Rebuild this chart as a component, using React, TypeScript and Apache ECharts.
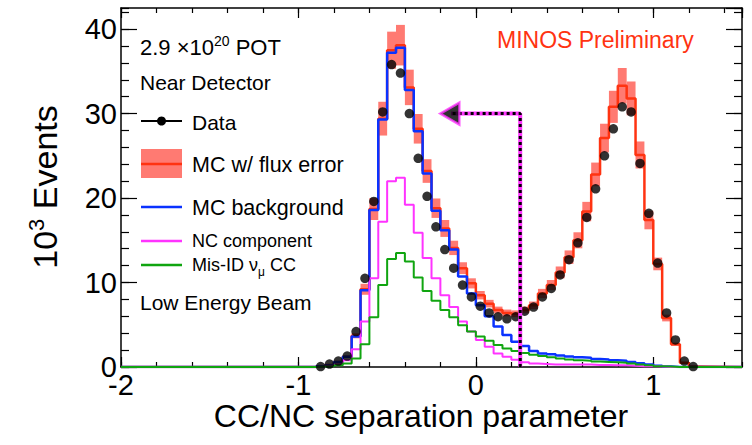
import { useEffect, useRef } from 'react';
import * as echarts from 'echarts';

const FONT = '"Liberation Sans", Arial, Helvetica, sans-serif';

// Axis ranges and binning
const X_MIN = -2;
const X_MAX = 1.5;
const Y_MIN = 0;
const Y_MAX = 42.5;
const BIN_WIDTH = 0.05;

// Bin centres of the non-empty part of the histogram
const BIN_CENTERS = [
  -0.875, -0.825, -0.775, -0.725, -0.675, -0.625, -0.575, -0.525, -0.475, -0.425,
  -0.375, -0.325, -0.275, -0.225, -0.175, -0.125, -0.075, -0.025, 0.025, 0.075,
  0.125, 0.175, 0.225, 0.275, 0.325, 0.375, 0.425, 0.475, 0.525, 0.575,
  0.625, 0.675, 0.725, 0.775, 0.825, 0.875, 0.925, 0.975, 1.025, 1.075,
  1.125, 1.175, 1.225,
];

// 10^3 events per bin
const DATA = [
  0.05, 0.35, 0.7, 1.3, 4.2, 10.5, 19.6, 30.2, 35.8, 34.8,
  30.0, 24.7, 20.2, 16.6, 13.9, 11.7, 9.7, 8.3, 7.2, 6.4,
  5.95, 5.7, 5.95, 6.6, 7.1, 8.3, 9.3, 10.9, 12.7, 14.7,
  17.7, 21.1, 25.0, 28.2, 30.8, 30.2, 24.1, 18.2, 12.3, 6.4,
  3.2, 0.7, 0.05,
];
const MC_TOTAL = [
  0.1, 0.25, 0.6, 1.2, 3.7, 9.2, 18.7, 29.4, 37.5, 38.1,
  33.1, 28.2, 23.2, 18.8, 16.4, 14.1, 11.7, 9.9, 8.5, 7.5,
  6.75, 6.4, 6.3, 6.75, 7.3, 8.7, 9.7, 11.2, 13.0, 15.0,
  18.4, 22.8, 27.1, 30.8, 33.3, 31.8, 25.1, 17.4, 12.2, 5.8,
  2.7, 0.5, 0.05,
];
const MC_ERR = [
  0.02, 0.03, 0.05, 0.1, 0.3, 0.65, 1.3, 2.0, 2.2, 2.4,
  2.1, 1.75, 1.4, 1.15, 1.0, 0.85, 0.7, 0.6, 0.5, 0.45,
  0.4, 0.4, 0.4, 0.4, 0.45, 0.55, 0.6, 0.7, 0.8, 0.95,
  1.15, 1.4, 1.7, 1.9, 2.1, 2.0, 1.6, 1.1, 0.75, 0.4,
  0.2, 0.05, 0.01,
];
const MC_BKG = [
  0.1, 0.2, 0.6, 1.2, 3.6, 9.1, 18.6, 29.3, 37.2, 37.8,
  32.8, 27.9, 22.9, 18.5, 16.2, 13.9, 10.7, 8.7, 7.3, 6.0,
  4.8, 3.8, 3.0, 2.5, 1.9, 1.6, 1.5, 1.35, 1.25, 1.15,
  1.1, 0.95, 0.9, 0.8, 0.75, 0.6, 0.45, 0.3, 0.15, 0.05,
  0, 0, 0,
];
const NC = [
  0.05, 0.15, 0.3, 0.8, 2.1, 5.4, 10.5, 17.2, 22.0, 22.4,
  19.2, 15.9, 12.9, 10.5, 8.5, 7.1, 5.4, 4.2, 3.2, 2.4,
  1.6, 1.2, 0.85, 0.55, 0.4, 0.35, 0.3, 0.3, 0.3, 0.3,
  0.3, 0.25, 0.25, 0.2, 0.2, 0.15, 0.1, 0.1, 0.05, 0,
  0, 0, 0,
];
const MISID = [
  0.05, 0.1, 0.2, 0.4, 1.0, 2.7, 5.9, 9.7, 12.8, 13.5,
  12.5, 10.6, 9.0, 7.85, 6.75, 5.9, 4.95, 4.2, 3.6, 3.1,
  2.6, 2.2, 1.9, 1.65, 1.45, 1.3, 1.15, 1.0, 0.9, 0.8,
  0.75, 0.65, 0.6, 0.55, 0.5, 0.4, 0.3, 0.2, 0.1, 0.05,
  0, 0, 0,
];

// Cut arrow
const CUT_VALUE = 0.25;
const ARROW_Y = 30;
const ARROW_TIP = -0.2;

const RED = '#ff3311';
const BAND = '#ff7a72';
const BLUE = '#0a32ff';
const MAGENTA = '#ff33ff';
const GREEN = '#10a510';

function stepData(vals: number[]) {
  const pts: number[][] = [[X_MIN, 0]];
  BIN_CENTERS.forEach((c, i) => pts.push([c - BIN_WIDTH / 2, vals[i]]));
  pts.push([BIN_CENTERS[BIN_CENTERS.length - 1] + BIN_WIDTH / 2, 0]);
  pts.push([X_MAX, 0]);
  return pts;
}

function histSeries(name: string, vals: number[], color: string, width: number, z: number) {
  return {
    name,
    type: 'line',
    xAxisIndex: 0,
    yAxisIndex: 0,
    step: 'end',
    data: stepData(vals),
    showSymbol: false,
    symbol: 'none',
    lineStyle: { color, width },
    z,
    silent: true,
  };
}

const intLabel = (v: number) => (Number.isInteger(v) ? String(v) : '');

function buildOption() {
  const gridRect = { left: 121, top: 8, right: 10, bottom: 78 };
  const axisLineStyle = { color: '#000', width: 1.5 };
  const tickStyle = { color: '#000', width: 1.2 };

  const majorX = (position: string, labels: boolean, gridIndex: number) => ({
    type: 'value', gridIndex, position, min: X_MIN, max: X_MAX, interval: 1,
    axisLine: { show: true, onZero: false, lineStyle: axisLineStyle },
    axisTick: { show: true, inside: true, length: 10, lineStyle: tickStyle },
    axisLabel: {
      show: labels, fontSize: 29, color: '#000', fontFamily: FONT, margin: 3,
      formatter: intLabel, showMaxLabel: false,
    },
    splitLine: { show: false },
  });
  const minorX = (position: string, gridIndex: number) => ({
    type: 'value', gridIndex, position, min: X_MIN, max: X_MAX, interval: 0.2,
    axisLine: { show: false, onZero: false },
    axisTick: { show: true, inside: true, length: 5, lineStyle: tickStyle },
    axisLabel: { show: false },
    splitLine: { show: false },
  });
  const majorY = (position: string, labels: boolean, gridIndex: number) => ({
    type: 'value', gridIndex, position, min: Y_MIN, max: Y_MAX, interval: 10,
    axisLine: { show: true, onZero: false, lineStyle: axisLineStyle },
    axisTick: { show: true, inside: true, length: 16, lineStyle: tickStyle },
    axisLabel: {
      show: labels, fontSize: 29, color: '#000', fontFamily: FONT, margin: 4,
      formatter: intLabel, showMaxLabel: false,
    },
    splitLine: { show: false },
  });
  const minorY = (position: string, gridIndex: number) => ({
    type: 'value', gridIndex, position, min: Y_MIN, max: Y_MAX, interval: 2,
    axisLine: { show: false, onZero: false },
    axisTick: { show: true, inside: true, length: 8, lineStyle: tickStyle },
    axisLabel: { show: false },
    splitLine: { show: false },
  });

  const bandData = BIN_CENTERS.map((c, i) => [
    c - BIN_WIDTH / 2, c + BIN_WIDTH / 2, MC_TOTAL[i] - MC_ERR[i], MC_TOTAL[i] + MC_ERR[i],
  ]);

  const arrowPath = [[CUT_VALUE, 0], [CUT_VALUE, ARROW_Y], [ARROW_TIP + 0.06, ARROW_Y]];

  const legendX0 = 141;
  const legendX1 = 182;
  const textX = 192;

  const text = (x: number, y: number, str: string, size: number, color = '#000', rich?: any) => ({
    type: 'text', x, y, z: 100,
    style: {
      text: str, fill: color, fontSize: size, fontFamily: FONT,
      align: 'left', verticalAlign: 'middle', textAlign: 'left', textVerticalAlign: 'middle',
      rich,
    },
  });
  const lline = (y: number, color: string, width: number) => ({
    type: 'line', z: 100,
    shape: { x1: legendX0, y1: y, x2: legendX1, y2: y },
    style: { stroke: color, lineWidth: width },
  });

  return {
    animation: false,
    backgroundColor: '#fff',
    grid: [
      { ...gridRect, containLabel: false },
      { ...gridRect, containLabel: false },
    ],
    xAxis: [majorX('bottom', true, 0), majorX('top', false, 0), minorX('bottom', 1), minorX('top', 1)],
    yAxis: [majorY('left', true, 0), majorY('right', false, 0), minorY('left', 1), minorY('right', 1)],
    series: [
      {
        name: 'MC w/ flux error band',
        type: 'custom',
        xAxisIndex: 0,
        yAxisIndex: 0,
        data: bandData,
        encode: { x: [0, 1], y: [2, 3] },
        silent: true,
        z: 1,
        renderItem: (_params: any, api: any) => {
          const p0 = api.coord([api.value(0), api.value(3)]);
          const p1 = api.coord([api.value(1), api.value(2)]);
          return {
            type: 'rect',
            shape: { x: p0[0], y: p0[1], width: p1[0] - p0[0], height: p1[1] - p0[1] },
            style: { fill: BAND },
          };
        },
      },
      histSeries('MC w/ flux error', MC_TOTAL, RED, 2.5, 3),
      histSeries('MC background', MC_BKG, BLUE, 2.5, 4),
      histSeries('NC component', NC, MAGENTA, 2, 5),
      histSeries('Mis-ID numu CC', MISID, GREEN, 2, 6),
      {
        name: 'Data',
        type: 'scatter',
        xAxisIndex: 0,
        yAxisIndex: 0,
        data: BIN_CENTERS.map((c, i) => [c, DATA[i]]),
        symbol: 'circle',
        symbolSize: 9.5,
        itemStyle: { color: '#000' },
        z: 8,
        silent: true,
      },
      {
        name: 'cut-base',
        type: 'line',
        xAxisIndex: 0,
        yAxisIndex: 0,
        data: arrowPath,
        showSymbol: false,
        symbol: 'none',
        lineStyle: { color: MAGENTA, width: 4 },
        z: 9,
        silent: true,
      },
      {
        name: 'cut-dash',
        type: 'line',
        xAxisIndex: 0,
        yAxisIndex: 0,
        data: arrowPath,
        showSymbol: false,
        symbol: 'none',
        lineStyle: { color: '#000', width: 3, type: [3, 3] },
        z: 10,
        silent: true,
      },
      {
        name: 'cut-head',
        type: 'scatter',
        xAxisIndex: 0,
        yAxisIndex: 0,
        data: [[ARROW_TIP, ARROW_Y]],
        symbol: 'triangle',
        symbolSize: [22, 19],
        symbolRotate: 90,
        symbolOffset: [9.5, 0],
        itemStyle: { color: '#000', borderColor: MAGENTA, borderWidth: 2.5 },
        z: 11,
        silent: true,
      },
    ],
    graphic: [
      // Y axis title
      {
        type: 'text', x: 45, y: 187, rotation: Math.PI / 2, z: 100,
        style: {
          text: '{a|10}{s|3}{a| Events}',
          fill: '#000', fontFamily: FONT, fontSize: 34,
          align: 'center', verticalAlign: 'middle', textAlign: 'center', textVerticalAlign: 'middle',
          rich: {
            a: { fontSize: 34, fontFamily: FONT, fill: '#000', lineHeight: 40 },
            s: { fontSize: 22, fontFamily: FONT, fill: '#000', lineHeight: 22, verticalAlign: 'top' },
          },
        },
      },
      // X axis title
      {
        type: 'text', x: 421, y: 416, z: 100,
        style: {
          text: 'CC/NC separation parameter', fill: '#000', fontFamily: FONT, fontSize: 32,
          align: 'center', verticalAlign: 'middle', textAlign: 'center', textVerticalAlign: 'middle',
        },
      },
      text(140, 47, '{n|2.9 ×10}{s|20}{n| POT}', 22, '#000', {
        n: { fontSize: 22, fontFamily: FONT, fill: '#000', lineHeight: 26 },
        s: { fontSize: 14, fontFamily: FONT, fill: '#000', lineHeight: 14, verticalAlign: 'top' },
      }),
      text(140, 82, 'Near Detector', 21),
      lline(121, '#000', 2),
      { type: 'circle', z: 101, shape: { cx: 161.5, cy: 121, r: 4.5 }, style: { fill: '#000' } },
      text(textX, 122, 'Data', 21),
      { type: 'rect', z: 100, shape: { x: legendX0, y: 149, width: legendX1 - legendX0, height: 29 }, style: { fill: BAND } },
      lline(164, RED, 2.5),
      text(textX, 165, 'MC w/ flux error', 21.5),
      lline(207, BLUE, 2.5),
      text(textX, 208, 'MC background', 21.5),
      lline(241, MAGENTA, 2.5),
      text(textX, 241, 'NC component', 18),
      lline(265, GREEN, 2.5),
      text(textX, 265, '{n|Mis-ID ν}{u|μ}{n| CC}', 18, '#000', {
        n: { fontSize: 18, fontFamily: FONT, fill: '#000', lineHeight: 26 },
        u: { fontSize: 12, fontFamily: FONT, fill: '#000', lineHeight: 12, verticalAlign: 'bottom' },
      }),
      text(140, 302, 'Low Energy Beam', 21),
      text(497, 40, 'MINOS Preliminary', 23, RED),
    ],
  };
}

export default function App() {
  const ref = useRef<HTMLDivElement>(null);
  useEffect(() => {
    if (!ref.current) return;
    const chart = echarts.init(ref.current, undefined, { renderer: 'svg' });
    chart.setOption(buildOption() as any);
    return () => chart.dispose();
  }, []);
  return (
    <div
      ref={ref}
      style={{ position: 'fixed', left: 0, top: 0, width: 752, height: 445, background: '#fff' }}
    />
  );
}
